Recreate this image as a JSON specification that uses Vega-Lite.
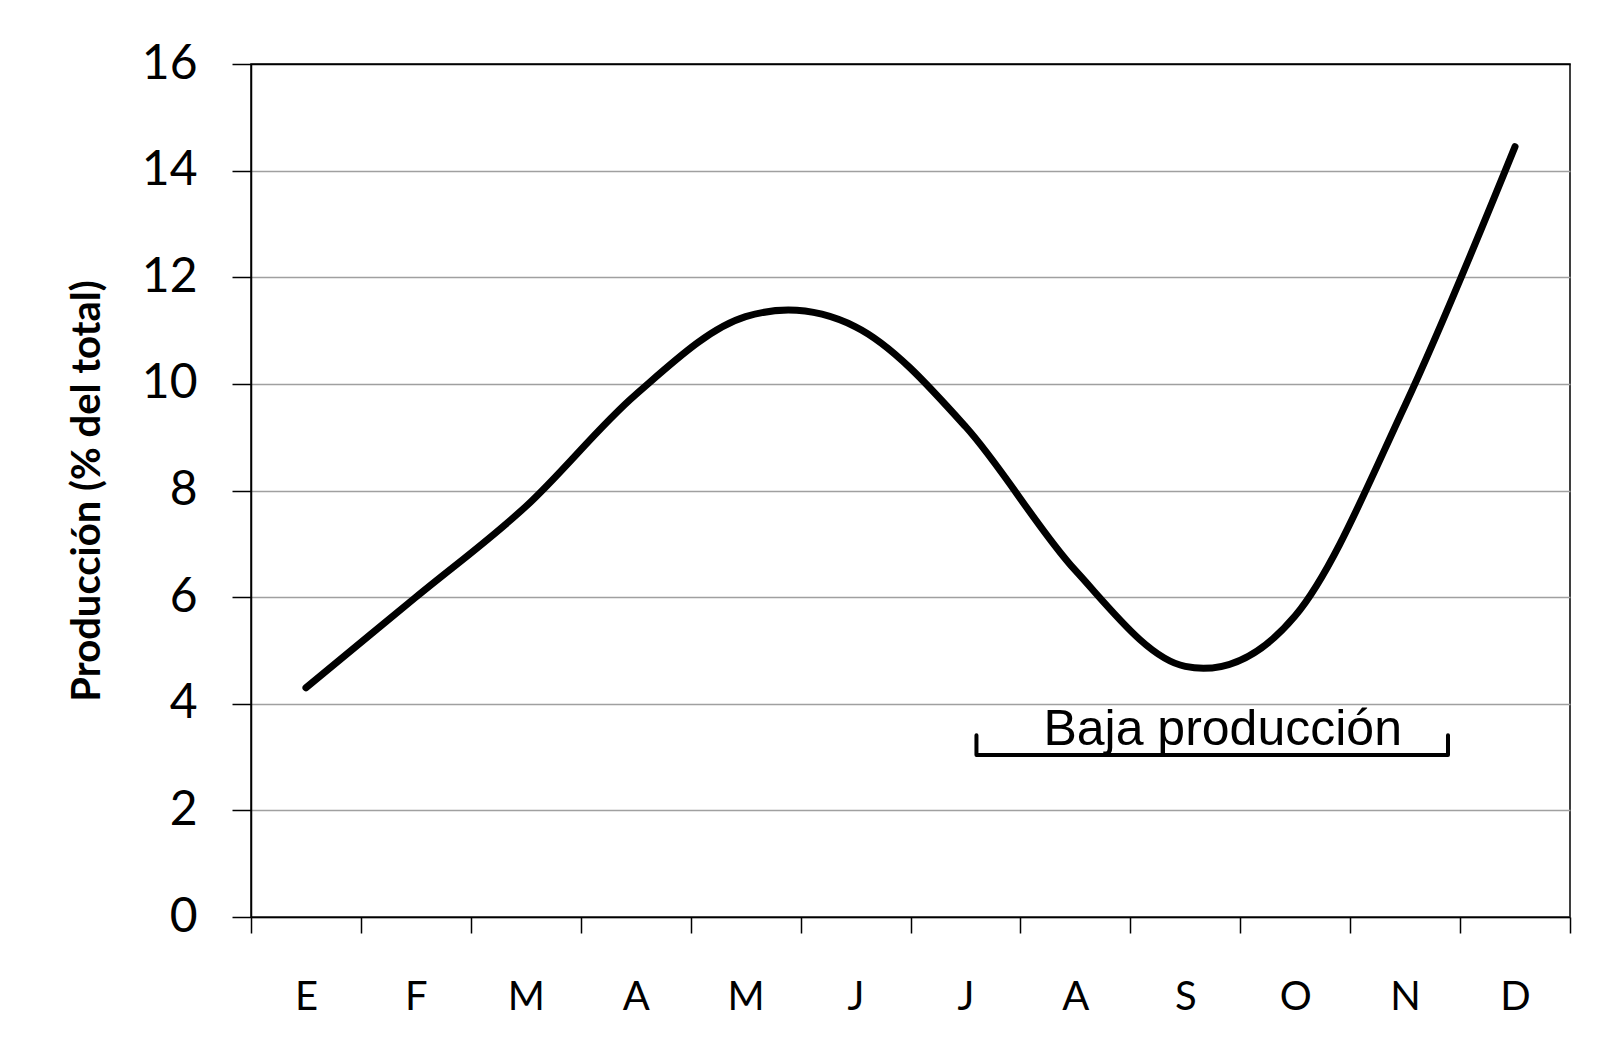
{
  "$schema": "https://vega.github.io/schema/vega-lite/v6.json",
  "autosize": {"type": "none"},
  "width": 1319,
  "height": 853,
  "padding": {"left": 251, "top": 64, "right": 29, "bottom": 141},
  "background": "white",
  "config": {
    "view": {"stroke": "black", "strokeWidth": 1.5},
    "axis": {"domainColor": "black", "domainWidth": 1.5, "tickColor": "black", "tickWidth": 1.5, "labelColor": "black", "titleColor": "black"}
  },
  "datasets": {
    "produccion": [
      {"mes": 1, "nombre": "E", "valor": 4.3},
      {"mes": 2, "nombre": "F", "valor": 6.0},
      {"mes": 3, "nombre": "M", "valor": 7.7},
      {"mes": 4, "nombre": "A", "valor": 9.8},
      {"mes": 5, "nombre": "M", "valor": 11.26},
      {"mes": 6, "nombre": "J", "valor": 11.07},
      {"mes": 7, "nombre": "J", "valor": 9.2},
      {"mes": 8, "nombre": "A", "valor": 6.5},
      {"mes": 9, "nombre": "S", "valor": 4.7},
      {"mes": 10, "nombre": "O", "valor": 5.65},
      {"mes": 11, "nombre": "N", "valor": 9.6},
      {"mes": 12, "nombre": "D", "valor": 14.45}
    ],
    "corchete": [
      {"orden": 1, "mes": 7.1, "valor": 3.41},
      {"orden": 2, "mes": 7.1, "valor": 3.04},
      {"orden": 3, "mes": 11.39, "valor": 3.04},
      {"orden": 4, "mes": 11.39, "valor": 3.41}
    ],
    "etiqueta": [
      {"mes": 9.34, "valor": 3.23, "texto": "Baja producción"}
    ]
  },
  "layer": [
    {
      "data": {"name": "produccion"},
      "mark": {"type": "line", "interpolate": "cardinal", "tension": 0, "color": "black", "strokeWidth": 7, "strokeCap": "round", "strokeJoin": "round"},
      "encoding": {
        "x": {
          "field": "mes", "type": "quantitative",
          "scale": {"domain": [0.5, 12.5], "nice": false, "zero": false},
          "axis": {
            "title": null,
            "values": [0.5, 1.5, 2.5, 3.5, 4.5, 5.5, 6.5, 7.5, 8.5, 9.5, 10.5, 11.5, 12.5],
            "labelExpr": "['E','F','M','A','M','J','J','A','S','O','N','D',''][round(datum.value - 0.5)]",
            "labelOffset": 54.96,
            "labelOverlap": false,
            "labelFlush": false,
            "labelFont": "Lato",
            "labelFontSize": 40,
            "labelPadding": 44,
            "tickSize": 16,
            "grid": false
          }
        },
        "y": {
          "field": "valor", "type": "quantitative",
          "scale": {"domain": [0, 16], "nice": false},
          "axis": {
            "title": "Producción (% del total)",
            "titleFont": "Lato",
            "titleFontSize": 40,
            "titleFontWeight": "bold",
            "titlePadding": 34,
            "values": [0, 2, 4, 6, 8, 10, 12, 14, 16],
            "labelFont": "Lato",
            "labelFontSize": 48,
            "labelPadding": 35,
            "tickSize": 19,
            "grid": true,
            "gridColor": {"condition": {"test": "datum.value === 16", "value": "black"}, "value": "#a0a0a0"},
            "gridWidth": 1.5
          }
        }
      }
    },
    {
      "data": {"name": "corchete"},
      "mark": {"type": "line", "color": "black", "strokeWidth": 4, "strokeJoin": "round", "strokeCap": "round"},
      "encoding": {
        "x": {"field": "mes", "type": "quantitative"},
        "y": {"field": "valor", "type": "quantitative"},
        "order": {"field": "orden", "type": "quantitative"}
      }
    },
    {
      "data": {"name": "etiqueta"},
      "mark": {"type": "text", "font": "Liberation Sans", "fontSize": 50, "align": "center", "baseline": "alphabetic", "color": "black"},
      "encoding": {
        "x": {"field": "mes", "type": "quantitative"},
        "y": {"field": "valor", "type": "quantitative"},
        "text": {"field": "texto"}
      }
    }
  ]
}
